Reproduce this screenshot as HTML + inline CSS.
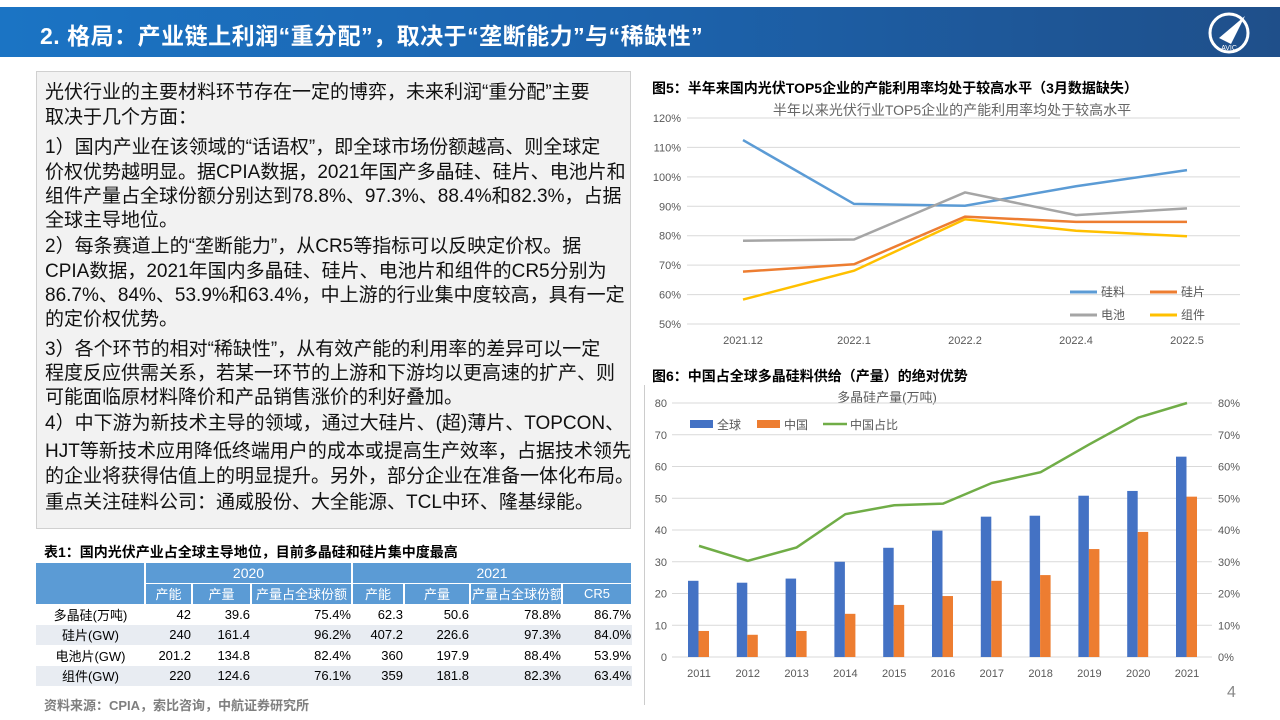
<!DOCTYPE html>
<html><head><meta charset="utf-8">
<style>
body{margin:0;width:1280px;height:720px;background:#fff;position:relative;overflow:hidden;font-family:"Liberation Sans","Noto Sans CJK SC",sans-serif;}
.hdr{position:absolute;left:0;top:7px;width:1280px;height:50px;background:linear-gradient(90deg,#1b74c4 0%,#1c63ad 50%,#1f4f8a 100%);}
.hdr h1{margin:0;position:absolute;left:40px;top:10px;color:#fff;font-size:23px;font-weight:bold;letter-spacing:0.5px}
.box{position:absolute;left:36px;top:71px;width:595px;height:458px;background:#f2f2f2;border:1px solid #d0d0d0;box-sizing:border-box}
.ln{position:absolute;left:45px;font-size:19px;color:#111;white-space:nowrap;line-height:22px}
.cap{position:absolute;font-size:14px;font-weight:bold;color:#000;white-space:nowrap}
table{position:absolute;left:36px;top:563px;border-collapse:collapse;font-size:13px;table-layout:fixed;width:596px}
td{padding:0 1px;height:20.5px;box-sizing:border-box;white-space:nowrap;overflow:hidden}
.h td{background:#5b9bd5;color:#fff;text-align:center;border-right:2px solid #fff;border-bottom:1px solid #fff}
.r td{text-align:right}
.r td:first-child{text-align:center}
.alt td{background:#e8ecf2}
</style></head><body>
<div class="hdr"><h1>2. 格局：产业链上利润“重分配”，取决于“垄断能力”与“稀缺性”</h1>
<svg style="position:absolute;left:1205px;top:3px" width="48" height="46"><circle cx="24" cy="23" r="19" fill="none" stroke="#fff" stroke-width="3"/><path d="M14 28 L40 6 L26 34 Z" fill="#fff"/><text x="24" y="40" font-size="7" fill="#fff" text-anchor="middle" font-family="Liberation Sans">AVIC</text></svg>
</div>

<div class="box"></div>
<div class="ln" style="top:82px">光伏行业的主要材料环节存在一定的博弈，未来利润“重分配”主要</div>
<div class="ln" style="top:107px">取决于几个方面：</div>
<div class="ln" style="top:137px">1）国内产业在该领域的“话语权”，即全球市场份额越高、则全球定</div>
<div class="ln" style="top:162px">价权优势越明显。据CPIA数据，2021年国产多晶硅、硅片、电池片和</div>
<div class="ln" style="top:186px">组件产量占全球份额分别达到78.8%、97.3%、88.4%和82.3%，占据</div>
<div class="ln" style="top:210px">全球主导地位。</div>
<div class="ln" style="top:236px">2）每条赛道上的“垄断能力”，从CR5等指标可以反映定价权。据</div>
<div class="ln" style="top:261px">CPIA数据，2021年国内多晶硅、硅片、电池片和组件的CR5分别为</div>
<div class="ln" style="top:285px">86.7%、84%、53.9%和63.4%，中上游的行业集中度较高，具有一定</div>
<div class="ln" style="top:309px">的定价权优势。</div>
<div class="ln" style="top:339px">3）各个环节的相对“稀缺性”，从有效产能的利用率的差异可以一定</div>
<div class="ln" style="top:363px">程度反应供需关系，若某一环节的上游和下游均以更高速的扩产、则</div>
<div class="ln" style="top:387px">可能面临原材料降价和产品销售涨价的利好叠加。</div>
<div class="ln" style="top:413px">4）中下游为新技术主导的领域，通过大硅片、(超)薄片、TOPCON、</div>
<div class="ln" style="top:441px">HJT等新技术应用降低终端用户的成本或提高生产效率，占据技术领先</div>
<div class="ln" style="top:466px">的企业将获得估值上的明显提升。另外，部分企业在准备一体化布局。</div>
<div class="ln" style="top:492px">重点关注硅料公司：通威股份、大全能源、TCL中环、隆基绿能。</div>

<div class="cap" style="left:44px;top:542px">表1：国内光伏产业占全球主导地位，目前多晶硅和硅片集中度最高</div>
<table>
<colgroup><col style="width:109px"><col style="width:47px"><col style="width:59px"><col style="width:101px"><col style="width:52px"><col style="width:66px"><col style="width:92px"><col style="width:70px"></colgroup>
<tr class="h"><td rowspan="2"></td><td colspan="3" style="font-size:14px">2020</td><td colspan="4" style="font-size:14px">2021</td></tr>
<tr class="h"><td>产能</td><td>产量</td><td>产量占全球份额</td><td>产能</td><td>产量</td><td>产量占全球份额</td><td>CR5</td></tr>
<tr class="r"><td>多晶硅(万吨)</td><td>42</td><td>39.6</td><td>75.4%</td><td>62.3</td><td>50.6</td><td>78.8%</td><td>86.7%</td></tr>
<tr class="r alt"><td>硅片(GW)</td><td>240</td><td>161.4</td><td>96.2%</td><td>407.2</td><td>226.6</td><td>97.3%</td><td>84.0%</td></tr>
<tr class="r"><td>电池片(GW)</td><td>201.2</td><td>134.8</td><td>82.4%</td><td>360</td><td>197.9</td><td>88.4%</td><td>53.9%</td></tr>
<tr class="r alt"><td>组件(GW)</td><td>220</td><td>124.6</td><td>76.1%</td><td>359</td><td>181.8</td><td>82.3%</td><td>63.4%</td></tr>
</table>
<div class="cap" style="left:44px;top:695px;color:#7f7f7f;font-size:13px">资料来源：CPIA，索比咨询，中航证券研究所</div>

<div class="cap" style="left:652px;top:78px">图5：半年来国内光伏TOP5企业的产能利用率均处于较高水平（3月数据缺失）</div>
<div class="cap" style="left:652px;top:366px">图6：中国占全球多晶硅料供给（产量）的绝对优势</div>
<div style="position:absolute;left:1227px;top:684px;font-size:16px;color:#888">4</div>
<div style="position:absolute;left:644px;top:385px;width:1px;height:320px;background:#ccc"></div>

<svg id="c1" style="position:absolute;left:0;top:0" width="1280" height="720"></svg>
<script>
const months=["2021.12","2022.1","2022.2","2022.4","2022.5"];
const si=[112.5,90.8,90.2,96.8,102.3];
const wafer=[67.8,70.3,86.5,84.7,84.7];
const cell=[78.3,78.7,94.7,87.0,89.3];
const module_=[58.3,68.1,85.6,81.7,79.8];
const yTicks1=[50,60,70,80,90,100,110,120];

const years=["2011","2012","2013","2014","2015","2016","2017","2018","2019","2020","2021"];
const globalProd=[24,23.4,24.7,30,34.4,39.8,44.2,44.5,50.8,52.3,63.1];
const chinaProd=[8.2,7,8.2,13.6,16.4,19.2,24,25.8,34,39.4,50.5];
const chinaShare=[35,30.3,34.5,45,47.8,48.3,54.8,58.2,67,75.4,80];
const yTicks2=[0,10,20,30,40,50,60,70,80];
const yTicksR=[0,10,20,30,40,50,60,70,80];

const NS="http://www.w3.org/2000/svg";
const svg=document.getElementById('c1');
function mk(t,a,txt){const e=document.createElementNS(NS,t);for(const k in a)e.setAttribute(k,a[k]);if(txt!==undefined)e.textContent=txt;svg.appendChild(e);return e;}
const F='"Liberation Sans","Noto Sans CJK SC",sans-serif';

// chart 1
const x1=i=>743+i*111;
const y1=v=>324-(v-50)/70*206;
let t=mk('text',{x:952,y:115,'font-size':14,fill:'#666','text-anchor':'middle','font-family':F},'半年以来光伏行业TOP5企业的产能利用率均处于较高水平');


yTicks1.forEach(v=>{
 const g=mk('line',{x1:687,x2:1240,y1:y1(v),y2:y1(v),stroke:'#d9d9d9','stroke-width':1});
 
 
 const l=mk('text',{x:681,y:y1(v)+4,'font-size':11,fill:'#595959','text-anchor':'end','font-family':F},v+'%');
 
 
});
months.forEach((m,i)=>{
 const l=mk('text',{x:x1(i),y:344,'font-size':11,fill:'#595959','text-anchor':'middle','font-family':F},m);
 
 
});
const ser1=[[si,'#5b9bd5','硅料'],[wafer,'#ed7d31','硅片'],[cell,'#a5a5a5','电池'],[module_,'#ffc000','组件']];
ser1.forEach(([d,c,n],k)=>{
 const p=mk('polyline',{points:d.map((v,i)=>x1(i)+','+y1(v)).join(' '),fill:'none',stroke:c,'stroke-width':2.5});
 
 
 const lx=[1070,1150][k%2], ly=[292,315][Math.floor(k/2)];
 const s=mk('line',{x1:lx,x2:lx+27,y1:ly,y2:ly,stroke:c,'stroke-width':3});
 
 
 const tt=mk('text',{x:lx+31,y:ly+4,'font-size':12,fill:'#595959','font-family':F},n);
 
 
});

// chart 2
const x2=i=>699+i*48.8;
const y2=v=>657-v/80*254;
const yR=v=>657-v/80*254;
t=mk('text',{x:887,y:402,'font-size':13,fill:'#595959','text-anchor':'middle','font-family':F},'多晶硅产量(万吨)');


yTicks2.forEach(v=>{
 const g=mk('line',{x1:672,x2:1212,y1:y2(v),y2:y2(v),stroke:'#d9d9d9','stroke-width':1});
 
 
 const l=mk('text',{x:667,y:y2(v)+4,'font-size':11,fill:'#595959','text-anchor':'end','font-family':F},v);
 
 
});
yTicksR.forEach(v=>{
 const l=mk('text',{x:1218,y:yR(v)+4,'font-size':11,fill:'#595959','font-family':F},v+'%');
 
 
});
years.forEach((yv,i)=>{
 const l=mk('text',{x:x2(i),y:677,'font-size':11,fill:'#595959','text-anchor':'middle','font-family':F},yv);
 
 
 const b=mk('rect',{x:x2(i)-11,y:y2(globalProd[i]),width:10.5,height:657-y2(globalProd[i]),fill:'#4472c4'});
 
 
 const o=mk('rect',{x:x2(i)-0.5,y:y2(chinaProd[i]),width:10.5,height:657-y2(chinaProd[i]),fill:'#ed7d31'});
 
 
});
const sl=mk('polyline',{points:chinaShare.map((v,i)=>x2(i)+','+yR(v)).join(' '),fill:'none',stroke:'#70ad47','stroke-width':2.5});


[['rect','#4472c4','全球',690],['rect','#ed7d31','中国',757],['line','#70ad47','中国占比',823]].forEach(([ty,c,n,lx])=>{
 let s;
 if(ty==='rect') s=mk('rect',{x:lx,y:420,width:23,height:8,fill:c});
 else s=mk('line',{x1:lx,x2:lx+24,y1:424,y2:424,stroke:c,'stroke-width':2.5});
 
 
 const tt=mk('text',{x:lx+27,y:429,'font-size':12,fill:'#595959','font-family':F},n);
 
 
});
</script>
</body></html>
